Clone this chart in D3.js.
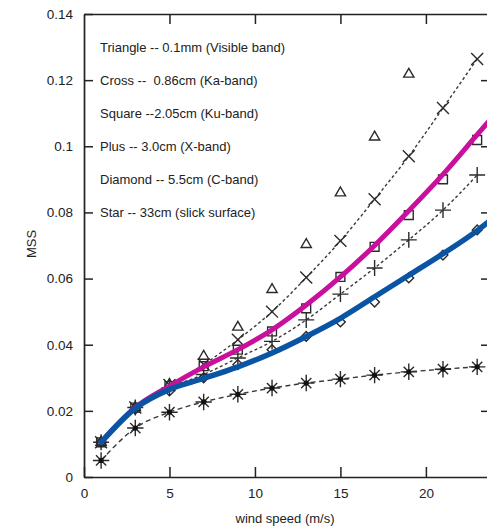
<!DOCTYPE html>
<html>
<head>
<meta charset="utf-8">
<script src="https://cdn.jsdelivr.net/npm/d3@7"></script>
<style>
  body { margin: 0; background: #fff; }
  text { font-family: "Liberation Sans", Arial, sans-serif; fill: #222; }
</style>
</head>
<body>
<div id="chart"></div>
<script>
// wind speed (m/s) where the measurements sit
const wind = [1, 3, 5, 7, 9, 11, 13, 15, 17, 19, 21, 23];

// MSS per band (null = off the top of the plot)
const triangle = [0.0105, 0.021, 0.028, 0.0365, 0.0453, 0.0567, 0.0703, 0.0859, 0.1028, 0.1218, null, null];
const cross    = [0.0105, 0.021, 0.0278, 0.034, 0.0415, 0.050, 0.0603, 0.0714, 0.084, 0.097, 0.1116, 0.1264];
const square   = [0.0105, 0.021, 0.0275, 0.0335, 0.0385, 0.044, 0.051, 0.0605, 0.0696, 0.0792, 0.090, 0.1019];
const plus     = [0.0105, 0.021, 0.027, 0.031, 0.036, 0.041, 0.0475, 0.0553, 0.0632, 0.0717, 0.0807, 0.0913];
const diamond  = [0.0105, 0.0205, 0.026, 0.030, 0.034, 0.0385, 0.0425, 0.0469, 0.0529, 0.0602, 0.0671, 0.0747];
const star     = [0.005, 0.0148, 0.0196, 0.0227, 0.025, 0.0269, 0.0284, 0.0296, 0.0308, 0.0318, 0.0326, 0.0333];

// the two thick fitted curves
const fitWind    = [1, 3, 5, 7, 9, 11, 13, 15, 17, 19, 21, 23, 23.75];
const magentaFit = [0.0105, 0.021, 0.0275, 0.0333, 0.0385, 0.0445, 0.052, 0.0605, 0.070, 0.0805, 0.0915, 0.1035, 0.108];
const blueFit    = [0.0105, 0.0208, 0.0265, 0.0298, 0.0333, 0.0375, 0.0425, 0.048, 0.0545, 0.061, 0.0675, 0.0745, 0.0775];

const legendLines = [
  "Triangle -- 0.1mm (Visible band)",
  "Cross --  0.86cm (Ka-band)",
  "Square --2.05cm (Ku-band)",
  "Plus -- 3.0cm (X-band)",
  "Diamond -- 5.5cm (C-band)",
  "Star -- 33cm (slick surface)"
];

const xTicks = [0, 5, 10, 15, 20];
const yTicks = [0, 0.02, 0.04, 0.06, 0.08, 0.1, 0.12, 0.14];
const yTickLabels = ["0", "0.02", "0.04", "0.06", "0.08", "0.1", "0.12", "0.14"];

const width = 487, height = 529;

const svg = d3.select("#chart").append("svg")
    .attr("width", width)
    .attr("height", height);

const x = d3.scaleLinear().domain([0, 23.75]).range([84, 490]);
const y = d3.scaleLinear().domain([0, 0.14]).range([477, 14]);

svg.append("clipPath").attr("id", "plot")
  .append("rect")
    .attr("x", x(0)).attr("y", y(0.14))
    .attr("width", x(23.75) - x(0)).attr("height", y(0) - y(0.14));

// axes with inward ticks
const inner = yTicks.slice(1, -1);
const axisColor = "#222";

svg.append("g")
    .attr("transform", `translate(${x(0)},0)`)
    .call(d3.axisLeft(y).tickValues(yTicks).tickSizeInner(-9).tickSizeOuter(0).tickPadding(11)
      .tickFormat((d, i) => yTickLabels[i]));

svg.append("g")
    .attr("transform", `translate(0,${y(0)})`)
    .call(d3.axisBottom(x).tickValues(xTicks).tickSizeInner(-10).tickSizeOuter(0).tickPadding(11)
      .tickFormat(d3.format("d")));

svg.append("g")
    .attr("transform", `translate(0,${y(0.14)})`)
    .call(d3.axisTop(x).tickValues(xTicks.slice(1)).tickSizeInner(-10).tickSizeOuter(0).tickFormat(""));

svg.append("g")
    .attr("transform", `translate(${x(23.75)},0)`)
    .call(d3.axisRight(y).tickValues(inner).tickSizeInner(-9).tickSizeOuter(0).tickFormat(""));

svg.selectAll(".domain").attr("stroke", axisColor).attr("stroke-width", 1.7);
svg.selectAll(".tick line").attr("stroke", axisColor).attr("stroke-width", 1.5);
svg.selectAll(".tick text")
    .attr("font-size", 13.5)
    .attr("font-family", "Liberation Sans, Arial, sans-serif")
    .attr("fill", "#2a2a2a");

// axis titles
svg.append("text")
    .attr("x", 285).attr("y", 518)
    .attr("text-anchor", "middle")
    .attr("dominant-baseline", "central")
    .attr("font-size", 13)
    .text("wind speed (m/s)");

svg.append("text")
    .attr("transform", "translate(31,244) rotate(-90)")
    .attr("text-anchor", "middle")
    .attr("dominant-baseline", "central")
    .attr("font-size", 13)
    .text("MSS");

// legend text
svg.append("g").selectAll("text")
  .data(legendLines)
  .join("text")
    .attr("x", 100)
    .attr("y", (d, i) => 47 + i * 33)
    .attr("dominant-baseline", "central")
    .attr("font-size", 13)
    .attr("fill", "#2a2a2a")
    .attr("xml:space", "preserve")
    .style("white-space", "pre")
    .text(d => d);

const plot = svg.append("g").attr("clip-path", "url(#plot)");

const pts = vals => wind.map((w, i) => [w, vals[i]]).filter(p => p[1] != null);

const dashed = d3.line()
    .x(d => x(d[0])).y(d => y(d[1]))
    .curve(d3.curveMonotoneX);

[[cross, "3,2.5"], [plus, "3,2.5"], [star, "5,3.5"]].forEach(([vals, dash]) => {
  plot.append("path")
      .attr("d", dashed(pts(vals)))
      .attr("fill", "none")
      .attr("stroke", "#3a3a3a")
      .attr("stroke-width", 1.4)
      .attr("stroke-dasharray", dash);
});

const markerStyle = sel => sel
    .attr("fill", "none")
    .attr("stroke", "#2a2a2a")
    .attr("stroke-width", 1.4);

const drawMarks = (vals, type, size) => {
  plot.append("g").selectAll("path")
    .data(pts(vals))
    .join("path")
      .attr("transform", d => `translate(${x(d[0])},${y(d[1])})`)
      .attr("d", d3.symbol().type(type).size(size))
      .call(markerStyle);
};

drawMarks(triangle, d3.symbolTriangle2, 75);
drawMarks(cross, d3.symbolTimes, 95);
drawMarks(square, d3.symbolSquare2, 100);
drawMarks(plus, d3.symbolPlus, 85);
drawMarks(diamond, d3.symbolDiamond2, 60);

// star: plus + times with a dark centre
const starG = plot.append("g").selectAll("g")
  .data(pts(star))
  .join("g")
    .attr("transform", d => `translate(${x(d[0])},${y(d[1])})`);
starG.append("path").attr("d", d3.symbol().type(d3.symbolPlus).size(90)).call(markerStyle);
starG.append("path").attr("d", d3.symbol().type(d3.symbolTimes).size(70)).call(markerStyle);
starG.append("circle").attr("r", 2.6).attr("fill", "#111");

// fitted curves on top
const fit = d3.line()
    .x((d, i) => x(fitWind[i])).y(d => y(d))
    .curve(d3.curveMonotoneX);

plot.append("path")
    .attr("d", fit(magentaFit))
    .attr("fill", "none")
    .attr("stroke", "#c8109c")
    .attr("stroke-width", 5)
    .attr("stroke-linecap", "round");

plot.append("path")
    .attr("d", fit(blueFit))
    .attr("fill", "none")
    .attr("stroke", "#0a55a3")
    .attr("stroke-width", 5.5)
    .attr("stroke-linecap", "round");
</script>
</body>
</html>
